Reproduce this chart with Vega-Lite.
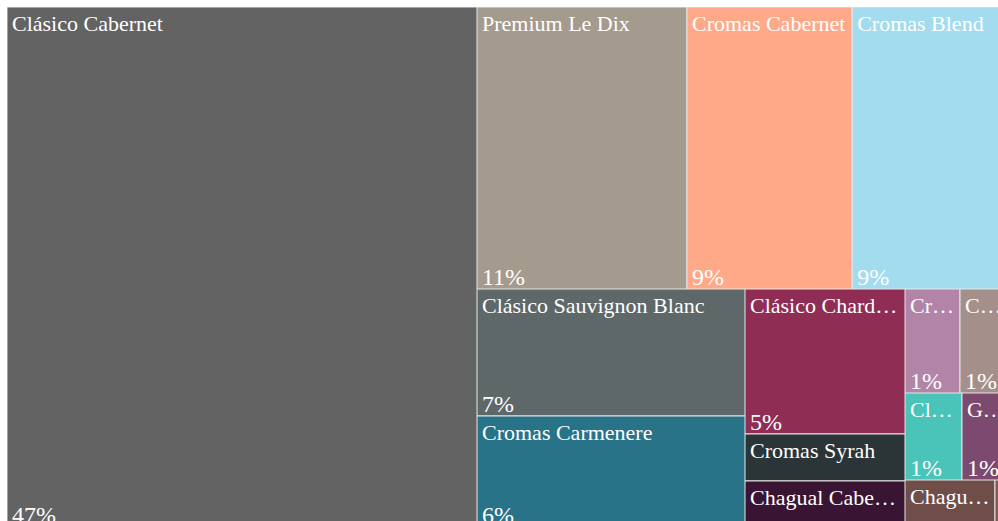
{
  "$schema": "https://vega.github.io/schema/vega-lite/v6.json",
  "background": "white",
  "padding": {"left": 7, "top": 7, "right": 0, "bottom": 0},
  "config": {"view": {"stroke": null}, "concat": {"spacing": 0}},
  "data": {"values": [
    {"group": "A", "order": 1, "name": "Clásico Cabernet", "share": 0.47},
    {"group": "T", "order": 1, "name": "Premium Le Dix", "share": 0.11},
    {"group": "T", "order": 2, "name": "Cromas Cabernet", "share": 0.0865},
    {"group": "T", "order": 3, "name": "Cromas Blend", "share": 0.086},
    {"group": "C1", "order": 1, "name": "Clásico Sauvignon Blanc", "share": 0.07},
    {"group": "C1", "order": 2, "name": "Cromas Carmenere", "share": 0.061},
    {"group": "C2", "order": 1, "name": "Clásico Chard…", "share": 0.05},
    {"group": "C2", "order": 2, "name": "Cromas Syrah", "share": 0.0162},
    {"group": "C2", "order": 3, "name": "Chagual Cabe…", "share": 0.0159},
    {"group": "R1", "order": 1, "name": "Cr…", "share": 0.011},
    {"group": "R1", "order": 2, "name": "C…", "share": 0.011},
    {"group": "R2", "order": 1, "name": "Cl…", "share": 0.010},
    {"group": "R2", "order": 2, "name": "G…", "share": 0.0095},
    {"group": "R3", "order": 1, "name": "Chagu…", "share": 0.008},
    {"group": "R3", "order": 2, "name": "…", "share": 0.0018}
  ]},
  "spacing": 0,
  "bounds": "flush",
  "hconcat": [
    {
      "width": 470, "height": 514,
      "transform": [
        {"filter": {"field": "group", "equal": "A"}},
        {"stack": "share", "groupby": [], "sort": [{"field": "order", "order": "ascending"}], "as": ["s0", "s1"]}
      ],
      "encoding": {
        "x": {"datum": 0, "type": "quantitative", "scale": {"domain": [0, 1], "nice": false}, "axis": null},
        "y": {"field": "s0", "type": "quantitative", "scale": {"domain": [0, 0.4646], "reverse": true, "nice": false, "zero": false}, "axis": null}
      },
      "layer": [
        {"mark": {"type": "rect", "clip": true, "stroke": "#e6e6e6", "strokeWidth": 1},
         "encoding": {"x2": {"datum": 1}, "y2": {"field": "s1"},
           "color": {"field": "name", "type": "nominal", "legend": null, "scale": {
             "domain": ["Clásico Cabernet", "Premium Le Dix", "Cromas Cabernet", "Cromas Blend", "Clásico Sauvignon Blanc", "Cromas Carmenere", "Clásico Chard…", "Cromas Syrah", "Chagual Cabe…", "Cr…", "C…", "Cl…", "G…", "Chagu…", "…"],
             "range": ["#636363", "#a59a8e", "#ffa988", "#a3dcee", "#5e6869", "#287388", "#8f2d55", "#2b3538", "#3a1533", "#b284a8", "#a48f8a", "#4ac4b8", "#7b4a6e", "#6f4e4a", "#7d5a52"]}}}},
        {"mark": {"type": "text", "clip": true, "align": "left", "baseline": "alphabetic", "dx": 5, "dy": 24, "fontSize": 22, "font": "Liberation Serif", "color": "white"},
         "encoding": {"text": {"field": "name", "type": "nominal"}}},
        {"mark": {"type": "text", "clip": true, "align": "left", "baseline": "alphabetic", "dx": 5, "dy": -4, "fontSize": 24, "font": "Liberation Serif", "color": "white"},
         "encoding": {"y": {"field": "s1", "type": "quantitative"}, "text": {"field": "share", "type": "quantitative", "format": ".0%"}}}
      ]
    },
    {
      "spacing": 0,
      "bounds": "flush",
      "vconcat": [
        {
          "width": 521, "height": 282,
          "transform": [
            {"filter": {"field": "group", "equal": "T"}},
            {"stack": "share", "groupby": [], "sort": [{"field": "order", "order": "ascending"}], "as": ["s0", "s1"]}
          ],
          "encoding": {
            "x": {"field": "s0", "type": "quantitative", "scale": {"domain": [0, 0.2729], "nice": false, "zero": false}, "axis": null},
            "y": {"datum": 0, "type": "quantitative", "scale": {"domain": [0, 1], "reverse": true, "nice": false}, "axis": null}
          },
          "layer": [
            {"mark": {"type": "rect", "clip": true, "stroke": "#e6e6e6", "strokeWidth": 1},
             "encoding": {"x2": {"field": "s1"}, "y2": {"datum": 1},
               "color": {"field": "name", "type": "nominal", "legend": null, "scale": {
                 "domain": ["Clásico Cabernet", "Premium Le Dix", "Cromas Cabernet", "Cromas Blend", "Clásico Sauvignon Blanc", "Cromas Carmenere", "Clásico Chard…", "Cromas Syrah", "Chagual Cabe…", "Cr…", "C…", "Cl…", "G…", "Chagu…", "…"],
                 "range": ["#636363", "#a59a8e", "#ffa988", "#a3dcee", "#5e6869", "#287388", "#8f2d55", "#2b3538", "#3a1533", "#b284a8", "#a48f8a", "#4ac4b8", "#7b4a6e", "#6f4e4a", "#7d5a52"]}}}},
            {"mark": {"type": "text", "clip": true, "align": "left", "baseline": "alphabetic", "dx": 5, "dy": 24, "fontSize": 22, "font": "Liberation Serif", "color": "white"},
             "encoding": {"text": {"field": "name", "type": "nominal"}}},
            {"mark": {"type": "text", "clip": true, "align": "left", "baseline": "alphabetic", "dx": 5, "dy": -4, "fontSize": 24, "font": "Liberation Serif", "color": "white"},
             "encoding": {"y": {"datum": 1, "type": "quantitative"}, "text": {"field": "share", "type": "quantitative", "format": ".0%"}}}
          ]
        },
        {
          "spacing": 0,
          "bounds": "flush",
          "hconcat": [
            {
              "width": 268, "height": 232,
              "transform": [
                {"filter": {"field": "group", "equal": "C1"}},
                {"stack": "share", "groupby": [], "sort": [{"field": "order", "order": "ascending"}], "as": ["s0", "s1"]}
              ],
              "encoding": {
                "x": {"datum": 0, "type": "quantitative", "scale": {"domain": [0, 1], "nice": false}, "axis": null},
                "y": {"field": "s0", "type": "quantitative", "scale": {"domain": [0, 0.12787], "reverse": true, "nice": false, "zero": false}, "axis": null}
              },
              "layer": [
                {"mark": {"type": "rect", "clip": true, "stroke": "#e6e6e6", "strokeWidth": 1},
                 "encoding": {"x2": {"datum": 1}, "y2": {"field": "s1"},
                   "color": {"field": "name", "type": "nominal", "legend": null, "scale": {
                     "domain": ["Clásico Cabernet", "Premium Le Dix", "Cromas Cabernet", "Cromas Blend", "Clásico Sauvignon Blanc", "Cromas Carmenere", "Clásico Chard…", "Cromas Syrah", "Chagual Cabe…", "Cr…", "C…", "Cl…", "G…", "Chagu…", "…"],
                     "range": ["#636363", "#a59a8e", "#ffa988", "#a3dcee", "#5e6869", "#287388", "#8f2d55", "#2b3538", "#3a1533", "#b284a8", "#a48f8a", "#4ac4b8", "#7b4a6e", "#6f4e4a", "#7d5a52"]}}}},
                {"mark": {"type": "text", "clip": true, "align": "left", "baseline": "alphabetic", "dx": 5, "dy": 24, "fontSize": 22, "font": "Liberation Serif", "color": "white"},
                 "encoding": {"text": {"field": "name", "type": "nominal"}}},
                {"mark": {"type": "text", "clip": true, "align": "left", "baseline": "alphabetic", "dx": 5, "dy": -4, "fontSize": 24, "font": "Liberation Serif", "color": "white"},
                 "encoding": {"y": {"field": "s1", "type": "quantitative"}, "text": {"field": "share", "type": "quantitative", "format": ".0%"}}}
              ]
            },
            {
              "width": 160, "height": 232,
              "transform": [
                {"filter": {"field": "group", "equal": "C2"}},
                {"stack": "share", "groupby": [], "sort": [{"field": "order", "order": "ascending"}], "as": ["s0", "s1"]}
              ],
              "encoding": {
                "x": {"datum": 0, "type": "quantitative", "scale": {"domain": [0, 1], "nice": false}, "axis": null},
                "y": {"field": "s0", "type": "quantitative", "scale": {"domain": [0, 0.08], "reverse": true, "nice": false, "zero": false}, "axis": null}
              },
              "layer": [
                {"mark": {"type": "rect", "clip": true, "stroke": "#e6e6e6", "strokeWidth": 1},
                 "encoding": {"x2": {"datum": 1}, "y2": {"field": "s1"},
                   "color": {"field": "name", "type": "nominal", "legend": null, "scale": {
                     "domain": ["Clásico Cabernet", "Premium Le Dix", "Cromas Cabernet", "Cromas Blend", "Clásico Sauvignon Blanc", "Cromas Carmenere", "Clásico Chard…", "Cromas Syrah", "Chagual Cabe…", "Cr…", "C…", "Cl…", "G…", "Chagu…", "…"],
                     "range": ["#636363", "#a59a8e", "#ffa988", "#a3dcee", "#5e6869", "#287388", "#8f2d55", "#2b3538", "#3a1533", "#b284a8", "#a48f8a", "#4ac4b8", "#7b4a6e", "#6f4e4a", "#7d5a52"]}}}},
                {"mark": {"type": "text", "clip": true, "align": "left", "baseline": "alphabetic", "dx": 5, "dy": 24, "fontSize": 22, "font": "Liberation Serif", "color": "white"},
                 "encoding": {"text": {"field": "name", "type": "nominal"}}},
                {"transform": [{"filter": {"field": "name", "equal": "Clásico Chard…"}}],
                 "mark": {"type": "text", "clip": true, "align": "left", "baseline": "alphabetic", "dx": 5, "dy": -4, "fontSize": 24, "font": "Liberation Serif", "color": "white"},
                 "encoding": {"y": {"field": "s1", "type": "quantitative"}, "text": {"field": "share", "type": "quantitative", "format": ".0%"}}}
              ]
            },
            {
              "spacing": 0,
              "bounds": "flush",
              "vconcat": [
                {
                  "width": 93, "height": 104,
                  "transform": [
                    {"filter": {"field": "group", "equal": "R1"}},
                    {"stack": "share", "groupby": [], "sort": [{"field": "order", "order": "ascending"}], "as": ["s0", "s1"]}
                  ],
                  "encoding": {
                    "x": {"field": "s0", "type": "quantitative", "scale": {"domain": [0, 0.0186], "nice": false, "zero": false}, "axis": null},
                    "y": {"datum": 0, "type": "quantitative", "scale": {"domain": [0, 1], "reverse": true, "nice": false}, "axis": null}
                  },
                  "layer": [
                    {"mark": {"type": "rect", "clip": true, "stroke": "#e6e6e6", "strokeWidth": 1},
                     "encoding": {"x2": {"field": "s1"}, "y2": {"datum": 1},
                       "color": {"field": "name", "type": "nominal", "legend": null, "scale": {
                         "domain": ["Clásico Cabernet", "Premium Le Dix", "Cromas Cabernet", "Cromas Blend", "Clásico Sauvignon Blanc", "Cromas Carmenere", "Clásico Chard…", "Cromas Syrah", "Chagual Cabe…", "Cr…", "C…", "Cl…", "G…", "Chagu…", "…"],
                         "range": ["#636363", "#a59a8e", "#ffa988", "#a3dcee", "#5e6869", "#287388", "#8f2d55", "#2b3538", "#3a1533", "#b284a8", "#a48f8a", "#4ac4b8", "#7b4a6e", "#6f4e4a", "#7d5a52"]}}}},
                    {"mark": {"type": "text", "clip": true, "align": "left", "baseline": "alphabetic", "dx": 5, "dy": 24, "fontSize": 22, "font": "Liberation Serif", "color": "white"},
                     "encoding": {"text": {"field": "name", "type": "nominal"}}},
                    {"mark": {"type": "text", "clip": true, "align": "left", "baseline": "alphabetic", "dx": 5, "dy": -4, "fontSize": 24, "font": "Liberation Serif", "color": "white"},
                     "encoding": {"y": {"datum": 1, "type": "quantitative"}, "text": {"field": "share", "type": "quantitative", "format": ".0%"}}}
                  ]
                },
                {
                  "width": 93, "height": 87,
                  "transform": [
                    {"filter": {"field": "group", "equal": "R2"}},
                    {"stack": "share", "groupby": [], "sort": [{"field": "order", "order": "ascending"}], "as": ["s0", "s1"]}
                  ],
                  "encoding": {
                    "x": {"field": "s0", "type": "quantitative", "scale": {"domain": [0, 0.01632], "nice": false, "zero": false}, "axis": null},
                    "y": {"datum": 0, "type": "quantitative", "scale": {"domain": [0, 1], "reverse": true, "nice": false}, "axis": null}
                  },
                  "layer": [
                    {"mark": {"type": "rect", "clip": true, "stroke": "#e6e6e6", "strokeWidth": 1},
                     "encoding": {"x2": {"field": "s1"}, "y2": {"datum": 1},
                       "color": {"field": "name", "type": "nominal", "legend": null, "scale": {
                         "domain": ["Clásico Cabernet", "Premium Le Dix", "Cromas Cabernet", "Cromas Blend", "Clásico Sauvignon Blanc", "Cromas Carmenere", "Clásico Chard…", "Cromas Syrah", "Chagual Cabe…", "Cr…", "C…", "Cl…", "G…", "Chagu…", "…"],
                         "range": ["#636363", "#a59a8e", "#ffa988", "#a3dcee", "#5e6869", "#287388", "#8f2d55", "#2b3538", "#3a1533", "#b284a8", "#a48f8a", "#4ac4b8", "#7b4a6e", "#6f4e4a", "#7d5a52"]}}}},
                    {"mark": {"type": "text", "clip": true, "align": "left", "baseline": "alphabetic", "dx": 5, "dy": 24, "fontSize": 22, "font": "Liberation Serif", "color": "white"},
                     "encoding": {"text": {"field": "name", "type": "nominal"}}},
                    {"mark": {"type": "text", "clip": true, "align": "left", "baseline": "alphabetic", "dx": 5, "dy": -4, "fontSize": 24, "font": "Liberation Serif", "color": "white"},
                     "encoding": {"y": {"datum": 1, "type": "quantitative"}, "text": {"field": "share", "type": "quantitative", "format": ".0%"}}}
                  ]
                },
                {
                  "width": 93, "height": 41,
                  "transform": [
                    {"filter": {"field": "group", "equal": "R3"}},
                    {"stack": "share", "groupby": [], "sort": [{"field": "order", "order": "ascending"}], "as": ["s0", "s1"]}
                  ],
                  "encoding": {
                    "x": {"field": "s0", "type": "quantitative", "scale": {"domain": [0, 0.00827], "nice": false, "zero": false}, "axis": null},
                    "y": {"datum": 0, "type": "quantitative", "scale": {"domain": [0, 1], "reverse": true, "nice": false}, "axis": null}
                  },
                  "layer": [
                    {"mark": {"type": "rect", "clip": true, "stroke": "#e6e6e6", "strokeWidth": 1},
                     "encoding": {"x2": {"field": "s1"}, "y2": {"datum": 1.2},
                       "color": {"field": "name", "type": "nominal", "legend": null, "scale": {
                         "domain": ["Clásico Cabernet", "Premium Le Dix", "Cromas Cabernet", "Cromas Blend", "Clásico Sauvignon Blanc", "Cromas Carmenere", "Clásico Chard…", "Cromas Syrah", "Chagual Cabe…", "Cr…", "C…", "Cl…", "G…", "Chagu…", "…"],
                         "range": ["#636363", "#a59a8e", "#ffa988", "#a3dcee", "#5e6869", "#287388", "#8f2d55", "#2b3538", "#3a1533", "#b284a8", "#a48f8a", "#4ac4b8", "#7b4a6e", "#6f4e4a", "#7d5a52"]}}}},
                    {"mark": {"type": "text", "clip": true, "align": "left", "baseline": "alphabetic", "dx": 5, "dy": 24, "fontSize": 22, "font": "Liberation Serif", "color": "white"},
                     "encoding": {"text": {"field": "name", "type": "nominal"}}}
                  ]
                }
              ]
            }
          ]
        }
      ]
    }
  ]
}
